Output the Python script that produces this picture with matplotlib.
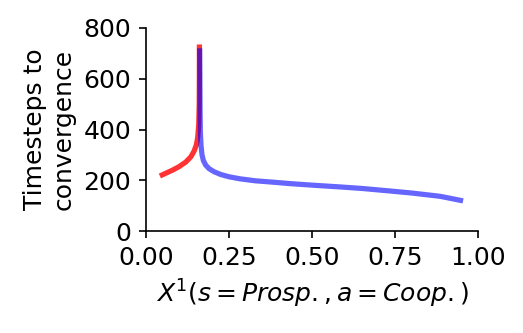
import matplotlib
matplotlib.use("Agg")
import matplotlib.pyplot as plt

red_x = [0.042, 0.06, 0.08, 0.10, 0.12, 0.135, 0.145, 0.152, 0.156, 0.159, 0.1605, 0.161, 0.161]
red_y = [217, 228, 240, 254, 272, 292, 315, 340, 370, 420, 500, 620, 735]

blue_x = [0.162, 0.1625, 0.163, 0.164, 0.166, 0.169, 0.173, 0.18, 0.19, 0.205, 0.225, 0.25, 0.283,
          0.33, 0.38, 0.434, 0.50, 0.584, 0.65, 0.735, 0.80, 0.886, 0.955]
blue_y = [720, 600, 480, 390, 335, 300, 278, 260, 246, 234, 223, 214, 206,
          198, 193, 187, 181, 174, 168, 158, 150, 137, 119]

plt.rcParams['font.family'] = ['DejaVu Sans']
plt.rcParams['font.size'] = 12
fig = plt.figure(figsize=(523/150, 333/150), dpi=150)
ax = fig.add_axes([0.279, 0.306, 0.635, 0.61])
ax.plot(red_x, red_y, color=(1, 0, 0), alpha=0.8, lw=2.5, solid_capstyle='butt')
ax.plot(blue_x, blue_y, color=(0, 0, 1), alpha=0.6, lw=2.5, solid_capstyle='butt')
ax.set_xlim(0, 1)
ax.set_ylim(0, 800)
ax.set_xticks([0, 0.25, 0.5, 0.75, 1.0])
ax.set_xticklabels(['0.00', '0.25', '0.50', '0.75', '1.00'])
ax.set_yticks([0, 200, 400, 600, 800])
ax.spines['top'].set_visible(False)
ax.spines['right'].set_visible(False)
ax.set_xlabel(r'$X^1(s=Prosp.,a=Coop.)$', fontsize=12)
ax.set_ylabel('Timesteps to\nconvergence')
fig.savefig('out.png', dpi=150)
